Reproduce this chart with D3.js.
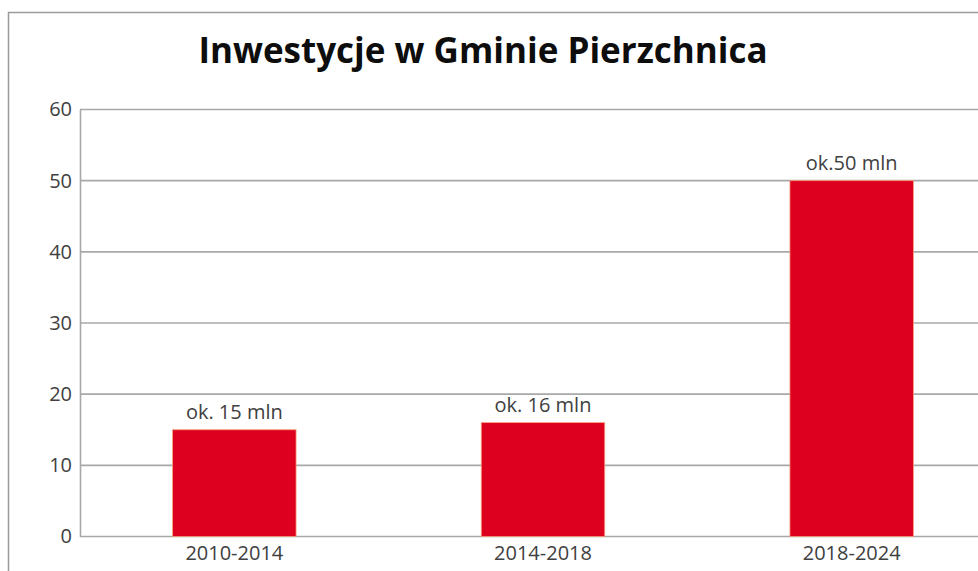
<!DOCTYPE html>
<html>
<head>
<meta charset="utf-8">
<script src="https://cdn.jsdelivr.net/npm/d3@7"></script>
<style>
  html, body { margin: 0; padding: 0; background: #ffffff; overflow: hidden; }
  svg { display: block; font-family: "Open Sans", sans-serif; }
</style>
</head>
<body>
<div id="chart"></div>
<script>
const categories = ["2010-2014", "2014-2018", "2018-2024"];
const values = [15, 16, 50];
const valueLabels = ["ok. 15 mln", "ok. 16 mln", "ok.50 mln"];
const yTicks = [0, 10, 20, 30, 40, 50, 60];
const chartTitle = "Inwestycje w Gminie Pierzchnica";

function drawInvestmentChart() {
    const container = d3.select("#chart");
    container.selectAll("*").remove();

    const width = 978;
    const height = 571;
    const margin = { top: 109.5, left: 80, bottom: 34.5 };
    const plotRight = 1006; // the chart runs past the right edge of the picture

    const svg = container
        .append("svg")
        .attr("width", width)
        .attr("height", height);

    // outer chart border, cropped on the right and bottom
    svg.append("rect")
        .attr("x", 8.5)
        .attr("y", 12.5)
        .attr("width", 1100)
        .attr("height", 700)
        .style("fill", "#ffffff")
        .style("stroke", "#9a9a9a")
        .style("stroke-width", 1.5);

    const x = d3.scaleBand()
        .domain(categories)
        .range([margin.left, plotRight])
        .paddingInner(0.6)
        .paddingOuter(0.3);

    const y = d3.scaleLinear()
        .domain([0, 60])
        .range([height - margin.bottom, margin.top]);

    // gridlines
    svg.append("g")
        .selectAll("line")
        .data(yTicks)
        .enter()
        .append("line")
        .attr("x1", margin.left)
        .attr("x2", plotRight)
        .attr("y1", d => y(d))
        .attr("y2", d => y(d))
        .style("stroke", "#a8a8a8")
        .style("stroke-width", 1.6);

    // y axis
    const yAxis = svg.append("g")
        .attr("transform", `translate(${margin.left},0)`)
        .call(d3.axisLeft(y).tickValues(yTicks).tickSize(0).tickPadding(8));
    yAxis.select(".domain").style("stroke", "#a8a8a8").style("stroke-width", 1.6);
    yAxis.selectAll("text")
        .style("font-family", "'Open Sans', sans-serif")
        .style("font-size", "20px")
        .style("fill", "#404040");

    // bars
    svg.append("g")
        .selectAll("rect")
        .data(values)
        .enter()
        .append("rect")
        .attr("x", (d, i) => x(categories[i]))
        .attr("y", d => y(d))
        .attr("width", x.bandwidth())
        .attr("height", d => y(0) - y(d))
        .style("fill", "#de001f")
        .style("stroke", "#f6a07a")
        .style("stroke-width", 0.8);

    // value labels
    svg.append("g")
        .selectAll("text")
        .data(values)
        .enter()
        .append("text")
        .attr("x", (d, i) => x(categories[i]) + x.bandwidth() / 2)
        .attr("y", d => y(d) - 11)
        .attr("text-anchor", "middle")
        .style("font-size", "20px")
        .style("fill", "#404040")
        .text((d, i) => valueLabels[i]);

    // x axis labels
    const xAxis = svg.append("g")
        .attr("transform", `translate(0,${y(0)})`)
        .call(d3.axisBottom(x).tickSize(0).tickPadding(9));
    xAxis.select(".domain").remove();
    xAxis.selectAll("text")
        .style("font-family", "'Open Sans', sans-serif")
        .style("font-size", "20px")
        .style("fill", "#404040");

    // title
    svg.append("text")
        .attr("x", 483)
        .attr("y", 63)
        .attr("text-anchor", "middle")
        .style("font-size", "35px")
        .style("font-weight", "700")
        .style("fill", "#0d0d0d")
        .text(chartTitle);
}

drawInvestmentChart();
</script>
</body>
</html>
